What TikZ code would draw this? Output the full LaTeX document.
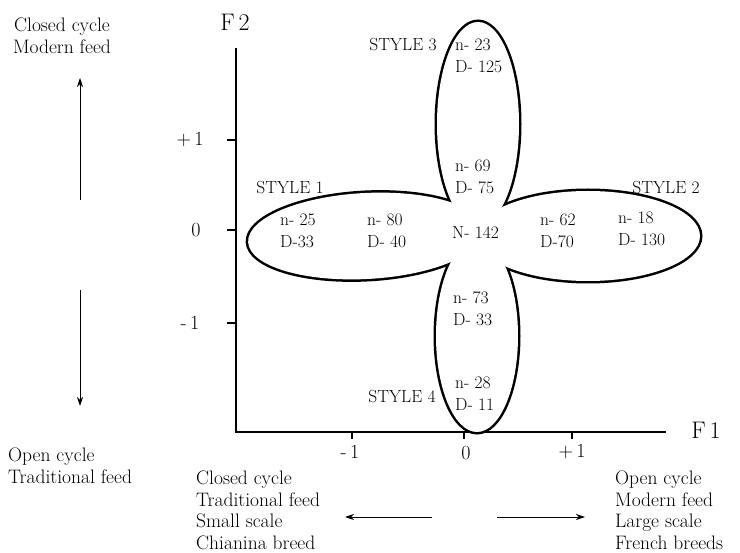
\documentclass[tikz,border=0pt]{standalone}
\usetikzlibrary{arrows.meta}
\begin{document}
\begin{tikzpicture}[x=1pt,y=-1pt,
  side/.style={font=\fontsize{19.5}{22}\selectfont, align=left, inner sep=0pt},
  sidec/.style={font=\fontsize{19.5}{22}\selectfont, align=center, inner sep=0pt},
  ticklab/.style={font=\fontsize{20}{22}\selectfont, inner sep=0pt},
  axislab/.style={font=\fontsize{24}{26}\selectfont, inner sep=0pt},
  petal/.style={font=\fontsize{17.5}{22}\selectfont, align=left, inner sep=0pt, anchor=west},
  stylelab/.style={font=\fontsize{17.5}{20}\selectfont, inner sep=0pt},
  axisline/.style={line width=1.8pt},
  tickline/.style={line width=1.2pt},
  pointer/.style={line width=0.9pt, -{Stealth[length=9pt,width=6pt]}},
  % the outline is stroked twice as wide, then the inside is painted white,
  % so only the outer half of each stroke on the union boundary remains
  rim/.style={draw, line width=5pt},
  blank/.style={fill=white}
]
\useasboundingbox (0,0) rectangle (740,553);

% axes
\coordinate (ytop) at (236,48);
\coordinate (origin) at (236,432);
\coordinate (xend) at (666,432);
\draw[axisline] (ytop) -- (origin) -- (xend);

% ticks on F2
\foreach \yy in {140,230,323} \draw[tickline] (227,\yy) -- (236,\yy);
\node[ticklab] (yp1) at (190,140) {+\,1};
\node[ticklab] (y0)  at (196,230) {0};
\node[ticklab] (ym1) at (190,323) {-\,1};

% ticks on F1
\foreach \xx in {352,464,572} \draw[tickline] (\xx,432) -- (\xx,439);
\node[ticklab] (xm1) at (350,452) {-\,1};
\node[ticklab] (x0)  at (466,453) {0};
\node[ticklab] (xp1) at (572,452) {+\,1};

\node[axislab] (f2) at (235,22) {F\,2};
\node[axislab] (f1) at (706,430) {F\,1};

% F2 interpretation
\node[sidec] (top) at (62,36) {Closed cycle\\Modern feed};
\node[side, anchor=west] (bottom) at (8,466) {Open cycle\\Traditional feed};
\coordinate (upfrom) at (80,200);
\coordinate (downfrom) at (80,290);
\draw[pointer] (upfrom) -- (80,78) coordinate (uptip);
\draw[pointer] (downfrom) -- (80,406) coordinate (downtip);

% F1 interpretation
\node[side, anchor=north west, font=\fontsize{19.5}{21.5}\selectfont] (negf1) at (196,471)
  {Closed cycle\\Traditional feed\\Small scale\\Chianina breed};
\node[side, anchor=north west, font=\fontsize{19.5}{21.5}\selectfont] (posf1) at (615,471)
  {Open cycle\\Modern feed\\Large scale\\French breeds};
\coordinate (lfrom) at (432,517);
\coordinate (rfrom) at (497,517);
\draw[pointer] (lfrom) -- (345,517);
\draw[pointer] (rfrom) -- (585,517);

% four petals: union of four ellipses
\path[rim] (478,124) ellipse [x radius=41, y radius=102];
\path[rim] (477,336) ellipse [x radius=41, y radius=96];
\path[rim, rotate around={3:(366,236)}] (366,236) ellipse [x radius=118, y radius=43];
\path[rim] (588,236) ellipse [x radius=112, y radius=45];
\path[blank] (478,124) ellipse [x radius=41, y radius=102];
\path[blank] (477,336) ellipse [x radius=41, y radius=96];
\path[blank, rotate around={3:(366,236)}] (366,236) ellipse [x radius=118, y radius=43];
\path[blank] (588,236) ellipse [x radius=112, y radius=45];
\path[blank] (478,235) circle [radius=18];

% petal labels
\node[stylelab] (s3) at (403,45) {STYLE 3};
\node[stylelab] (s1) at (290,188) {STYLE 1};
\node[stylelab] (s2) at (666,188) {STYLE 2};
\node[stylelab] (s4) at (402,397) {STYLE 4};

\node[petal] (p3a) at (455,56) {n- 23\\D- 125};
\node[petal] (p3b) at (455,177) {n- 69\\D- 75};
\node[petal] (p1a) at (280,231) {n- 25\\D-33};
\node[petal] (p1b) at (367,231) {n- 80\\D- 40};
\node[petal] (pc)  at (452,233) {N- 142};
\node[petal] (p2a) at (540,231) {n- 62\\D-70};
\node[petal] (p2b) at (618,229) {n- 18\\D- 130};
\node[petal] (p4a) at (453,309) {n- 73\\D- 33};
\node[petal] (p4b) at (455,394) {n- 28\\D- 11};
\end{tikzpicture}
\end{document}
